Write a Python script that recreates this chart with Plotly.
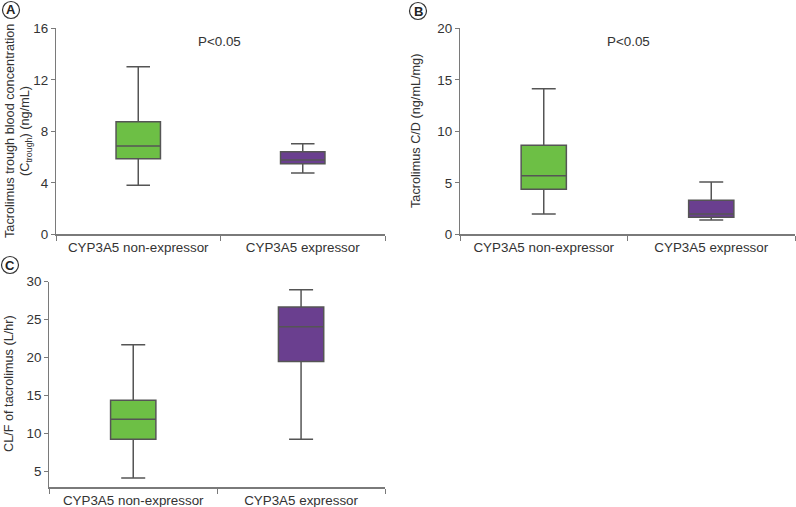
import plotly.graph_objects as go

W, H = 796, 507

categories = ["CYP3A5 non-expressor", "CYP3A5 expressor"]

# Panel A: Tacrolimus trough concentration (ng/mL)
a_q1 = [5.87, 5.48]
a_med = [6.86, 5.77]
a_q3 = [8.75, 6.42]
a_low = [3.80, 4.76]
a_up = [13.02, 7.04]

# Panel B: Tacrolimus C/D (ng/mL/mg)
b_q1 = [4.37, 1.65]
b_med = [5.69, 1.97]
b_q3 = [8.64, 3.30]
b_low = [1.97, 1.39]
b_up = [14.14, 5.08]

# Panel C: CL/F (L/hr)
c_q1 = [9.26, 19.5]
c_med = [11.89, 24.08]
c_q3 = [14.39, 26.67]
c_low = [4.17, 9.26]
c_up = [21.7, 28.95]

fills = ["#6dbf45", "#6a3f8f"]
FONT = "Liberation Sans, Arial, sans-serif"

fig = go.Figure()

panels = [
    ("x", "y", a_q1, a_med, a_q3, a_low, a_up),
    ("x2", "y2", b_q1, b_med, b_q3, b_low, b_up),
    ("x3", "y3", c_q1, c_med, c_q3, c_low, c_up),
]
for xa, ya, q1, med, q3, lo, up in panels:
    for i, cat in enumerate(categories):
        fig.add_trace(go.Box(
            x=[cat], q1=[q1[i]], median=[med[i]], q3=[q3[i]],
            lowerfence=[lo[i]], upperfence=[up[i]],
            xaxis=xa, yaxis=ya,
            fillcolor=fills[i], line=dict(color="#555555", width=1.5),
            width=0.27, whiskerwidth=0.53, boxpoints=False,
            showlegend=False, hoverinfo="skip",
        ))

def px_x(p):
    return p / W

def px_y(p):
    return (H - p) / H

base = dict(
    showgrid=False, zeroline=False, showline=True, linecolor="#7a7a7a",
    linewidth=1.2, ticks="outside", tickcolor="#7a7a7a", automargin=False,
    tickfont=dict(family=FONT, size=13.4, color="#333"),
)
xcommon = dict(base, type="category", tickson="boundaries", range=[-0.5, 1.5], ticklen=5)
ycommon = dict(base, ticklen=4)

fig.update_layout(
    template="none",
    width=W, height=H, margin=dict(l=0, r=0, t=0, b=0, pad=0, autoexpand=False),
    paper_bgcolor="white", plot_bgcolor="white",
    font=dict(family=FONT, color="#333"),
    xaxis=dict(domain=[px_x(56), px_x(385)], anchor="y", **xcommon),
    yaxis=dict(domain=[px_y(234.3), px_y(28.3)], anchor="x", range=[0, 16],
               tickvals=[0, 4, 8, 12, 16], **ycommon),
    xaxis2=dict(domain=[px_x(460), px_x(795)], anchor="y2", **xcommon),
    yaxis2=dict(domain=[px_y(234.3), px_y(28.3)], anchor="x2", range=[0, 20],
                tickvals=[0, 5, 10, 15, 20], **ycommon),
    xaxis3=dict(domain=[px_x(49.3), px_x(385)], anchor="y3", **xcommon),
    yaxis3=dict(domain=[px_y(487.3), px_y(281.7)], anchor="x3", range=[2.95, 30],
                tickvals=[5, 10, 15, 20, 25, 30], **ycommon),
)

ann = []
def add_text(x, y, text, size=13, angle=0, color="#333"):
    ann.append(dict(x=px_x(x), y=px_y(y), xref="paper", yref="paper", text=text,
                    xanchor="center", yanchor="middle", textangle=angle,
                    showarrow=False, font=dict(size=size, family=FONT, color=color)))

# P-values
add_text(220, 42, "P<0.05", size=13.4)
add_text(628, 42, "P<0.05", size=13.4)
# Y titles
add_text(10, 131, "Tacrolimus trough blood concentration", size=12.7, angle=-90)
add_text(26, 131, "(C<sub>trough</sub>) (ng/mL)", size=12.7, angle=-90)
add_text(416, 131, "Tacrolimus C/D (ng/mL/mg)", size=12.7, angle=-90)
add_text(9, 384, "CL/F of tacrolimus (L/hr)", size=12.7, angle=-90)

shapes = []
for lbl, cx, cy in [("A", 11, 10), ("B", 418, 11), ("C", 10, 265)]:
    r = 8.5
    shapes.append(dict(type="circle", xref="paper", yref="paper",
                       x0=px_x(cx - r), x1=px_x(cx + r), y0=px_y(cy + r), y1=px_y(cy - r),
                       line=dict(color="#333", width=1.2)))
    add_text(cx, cy, "<b>" + lbl + "</b>", size=13, color="#222")

fig.update_layout(annotations=ann, shapes=shapes)
fig.write_html("out.html", config={"displayModeBar": False, "staticPlot": True},
               post_script="document.body.style.margin='0';document.body.style.overflow='hidden';")
